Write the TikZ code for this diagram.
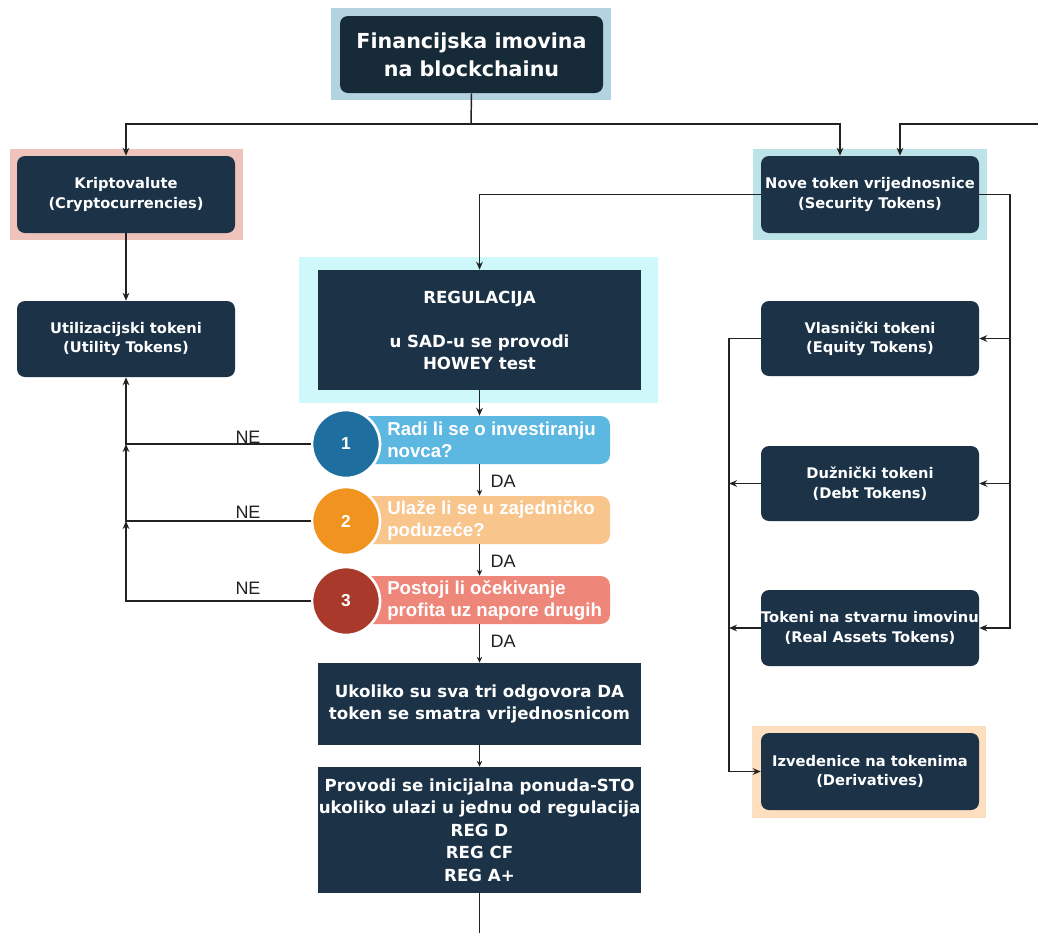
\documentclass[tikz,border=0pt]{standalone}
\usepackage{fontspec}
\setmainfont{DejaVu Sans}
\newfontfamily\arialf{Liberation Sans}
\usetikzlibrary{arrows.meta,calc}
\definecolor{dark}{HTML}{1B3247}
\definecolor{titleDark}{HTML}{172A38}
\definecolor{haloBlue}{HTML}{B4D3E1}
\definecolor{haloPink}{HTML}{EDC3BC}
\definecolor{haloTeal}{HTML}{BCE4E8}
\definecolor{haloCyan}{HTML}{CFF8FB}
\definecolor{haloPeach}{HTML}{FDDFC0}
\definecolor{qOneC}{HTML}{1E6FA0}
\definecolor{qOneB}{HTML}{5CB7E1}
\definecolor{qTwoC}{HTML}{F0931F}
\definecolor{qTwoB}{HTML}{F8C58C}
\definecolor{qThreeC}{HTML}{A8392B}
\definecolor{qThreeB}{HTML}{EF867A}
\definecolor{lineC}{HTML}{222222}
\tikzset{
  darkbox/.style={fill=dark, text=white, rounded corners=6pt, align=center, inner sep=0pt,
    minimum width=163.5pt, font=\bfseries\fontsize{11}{14.5}\selectfont},
  sqbox/.style={fill=dark, text=white, align=center, inner sep=0pt, minimum width=242.25pt,
    font=\bfseries\fontsize{12.5}{16.5}\selectfont},
  qcirc/.style={circle, draw=white, line width=2pt, minimum size=51pt, inner sep=0pt,
    text=white, font=\arialf\bfseries\fontsize{13}{15}\selectfont},
  qbar/.style={rounded corners=7pt, minimum width=202.5pt, minimum height=36pt, inner sep=0pt},
  qtext/.style={anchor=west, text=white, align=left, inner sep=0pt,
    font=\arialf\bfseries\fontsize{14}{16.5}\selectfont},
  lbl/.style={font=\arialf\fontsize{13.5}{15}\selectfont, text=lineC, inner sep=0pt},
  conn/.style={draw=lineC, line width=1.1pt},
  arr/.style={conn, -{Stealth[length=6pt,width=5pt]}},
  thinarr/.style={draw=lineC, line width=0.7pt, -{Stealth[length=4.5pt,width=4pt]}}
}
\begin{document}
\begin{tikzpicture}[x=0.75pt,y=-0.75pt]
\path[use as bounding box, fill=white] (0,0) rectangle (1038,933);
% halos
\fill[haloBlue] (331,8) rectangle (611,100);
\fill[haloPink] (10,149) rectangle (243,240);
\fill[haloTeal] (753,149) rectangle (987,240);
\fill[haloCyan] (299,257) rectangle (658,403);
\fill[haloPeach] (752,726) rectangle (986,818);
% main nodes
\node[darkbox, fill=titleDark, minimum width=197.25pt, minimum height=57.75pt,
  font=\bfseries\fontsize{15.5}{21}\selectfont] (title) at (471.5,54.5)
  {Financijska imovina\\na blockchainu};
\node[darkbox, minimum height=57.75pt] (krip) at (126,194.5) {Kriptovalute\\(Cryptocurrencies)};
\node[darkbox, minimum height=57.75pt] (sec) at (870,194.5) {Nove token vrijednosnice\\(Security Tokens)};
\node[darkbox, minimum height=57pt] (util) at (126,339) {Utilizacijski tokeni\\(Utility Tokens)};
\node[sqbox, minimum height=90pt] (reg) at (479.5,330)
  {REGULACIJA\\[16.5pt]u SAD-u se provodi\\HOWEY test};
% right column
\node[darkbox, minimum height=56.25pt] (vl) at (870,338.5) {Vlasnički tokeni\\(Equity Tokens)};
\node[darkbox, minimum height=56.25pt] (du) at (870,483.5) {Dužnički tokeni\\(Debt Tokens)};
\node[darkbox, minimum height=57pt] (re) at (870,628) {Tokeni na stvarnu imovinu\\(Real Assets Tokens)};
\node[darkbox, minimum height=57.75pt] (de) at (870,771.5) {Izvedenice na tokenima\\(Derivatives)};
% questions
\node[qbar, fill=qOneB] (q1bar) at (475,440) {};
\node[qtext] (q1t) at (387,440) {Radi li se o investiranju\\novca?};
\node[qcirc, fill=qOneC] (q1) at (346,444) {1};
\node[qbar, fill=qTwoB] (q2bar) at (475,520) {};
\node[qtext] (q2t) at (387,520) {Ulaže li se u zajedničko\\poduzeće?};
\node[qcirc, fill=qTwoC] (q2) at (346,521) {2};
\node[qbar, fill=qThreeB] (q3bar) at (475,600) {};
\node[qtext] (q3t) at (387,600) {Postoji li očekivanje\\profita uz napore drugih};
\node[qcirc, fill=qThreeC] (q3) at (346,601) {3};
% bottom boxes
\node[sqbox, minimum height=61.5pt] (uk) at (479.5,704)
  {Ukoliko su sva tri odgovora DA\\token se smatra vrijednosnicom};
\node[sqbox, minimum height=94.5pt, font=\bfseries\fontsize{12.5}{16.9}\selectfont] (sto) at (479.5,830)
  {Provodi se inicijalna ponuda-STO\\ukoliko ulazi u jednu od regulacija\\REG D\\REG CF\\REG A+};
% labels
\node[lbl] (da1) at (503,481) {DA};
\node[lbl] (da2) at (503,561) {DA};
\node[lbl] (da3) at (503,641) {DA};
\node[lbl] (ne1) at (248,437) {NE};
\node[lbl] (ne2) at (248,512) {NE};
\node[lbl] (ne3) at (248,588) {NE};
% coordinates
\coordinate (split) at (471,124);
\coordinate (extR) at (1038,124);
\coordinate (extB) at (479.5,933);
\coordinate (rx) at (1010,0);
\coordinate (lx) at (729,0);
% connectors top
\draw[conn] (title.south) -- (split);
\draw[arr] (split) -| (krip.north);
\draw[arr] (split) -| ([xshift=-22.5pt]sec.north);
\draw[arr] (extR) -| ([xshift=22.5pt]sec.north);
\draw[arr] (krip.south) -- (util.north);
\draw[arr] (sec.west) -| (reg.north);
% right bus
\draw[arr] (sec.east) -| (rx |- re.east) -- (re.east);
\draw[arr] (rx |- vl.east) -- (vl.east);
\draw[arr] (rx |- du.east) -- (du.east);
% left bus
\draw[arr] (vl.west) -| (lx |- de.west) -- (de.west);
\draw[arr] (du.west) -- (lx |- du.west);
\draw[arr] (re.west) -- (lx |- re.west);
% NE connectors
\draw[arr] (q1.west) -| (util.south);
\draw[arr] (q2.west) -| (util.south |- q1.west);
\draw[arr] (q3.west) -| (util.south |- q2.west);
% DA connectors
\draw[arr] (reg.south) -- (reg.south |- q1bar.north);
\draw[thinarr] (reg.south |- q1bar.south) -- (reg.south |- q2bar.north);
\draw[thinarr] (reg.south |- q2bar.south) -- (reg.south |- q3bar.north);
\draw[thinarr] (reg.south |- q3bar.south) -- (uk.north);
\draw[thinarr] (uk.south) -- (sto.north);
\draw[conn] (sto.south) -- (extB);
\end{tikzpicture}
\end{document}
